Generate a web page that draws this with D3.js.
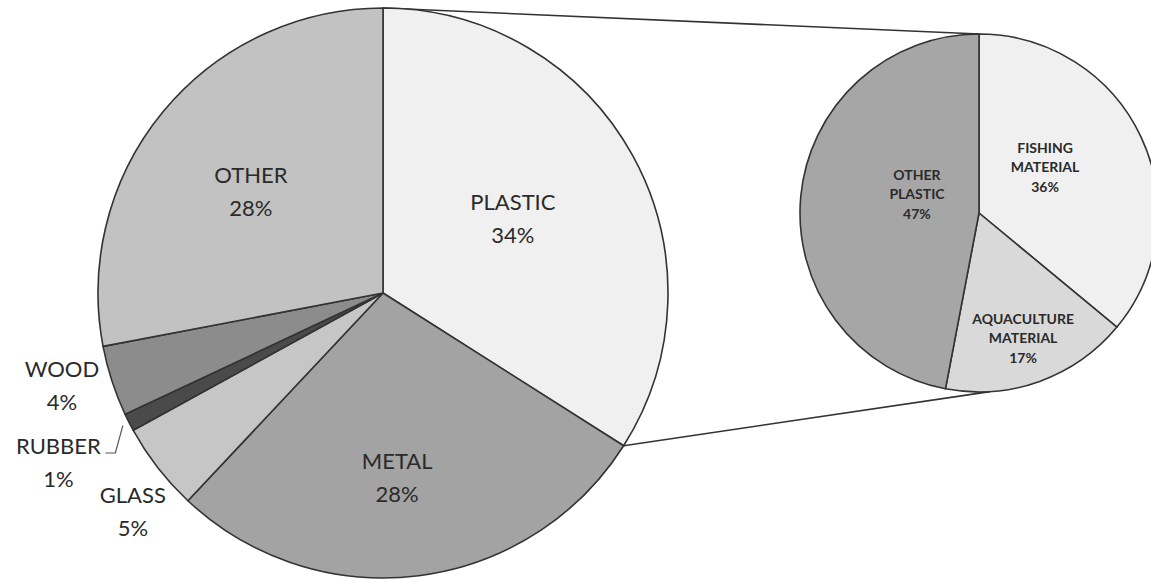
<!DOCTYPE html>
<html>
<head>
<meta charset="utf-8">
<script src="https://cdn.jsdelivr.net/npm/d3@7"></script>
<style>
  html, body { margin: 0; padding: 0; background: #fff; }
  svg { display: block; }
</style>
</head>
<body>
<svg id="chart" width="1151" height="580"></svg>
<script>
// ---- data ----
const mainCategories = ["PLASTIC", "METAL", "GLASS", "RUBBER", "WOOD", "OTHER"];
const mainValues = [34, 28, 5, 1, 4, 28];
const subCategories = ["FISHING\nMATERIAL", "AQUACULTURE\nMATERIAL", "OTHER\nPLASTIC"];
const subValues = [36, 17, 47];

// ---- styling ----
const mainColors = ["#f0f0f0", "#a3a3a3", "#c6c6c6", "#4a4a4a", "#8c8c8c", "#c2c2c2"];
const subColors = ["#f0f0f0", "#d9d9d9", "#a6a6a6"];
// label placement: [radius, angle shift in degrees] relative to slice middle
const mainLabelPlace = [[150, -1.2], [184.5, 2.8], [332, -3.3], [366, -0.5], [334, 2.0], [167, -1.9]];
const subLabelPlace = [[80, -9.1], [133.5, 0.5], [64.6, 10.8]];

const svg = d3.select("#chart");
const stroke = "#333";

const mainC = { x: 383, y: 293, r: 285 };
const subC = { x: 979, y: 213, r: 179 };

const pie = d3.pie().sort(null).value(d => d.v);
const mainArcs = pie(mainValues.map((v, i) => ({ v, name: mainCategories[i] })));
const subArcs = pie(subValues.map((v, i) => ({ v, name: subCategories[i] })));

function polar(c, r, a) { return [c.x + r * Math.sin(a), c.y - r * Math.cos(a)]; }

// connector lines
const plastic = mainArcs[0];
const top1 = polar(mainC, mainC.r, plastic.startAngle);
const top2 = polar(subC, subC.r, 0);
const bot1 = polar(mainC, mainC.r, plastic.endAngle);
const bot2 = polar(subC, subC.r, Math.PI * 176.5 / 180);
svg.append("line").attr("x1", top1[0]).attr("y1", top1[1]).attr("x2", top2[0]).attr("y2", top2[1])
  .attr("stroke", stroke).attr("stroke-width", 1.6);
svg.append("line").attr("x1", bot1[0]).attr("y1", bot1[1]).attr("x2", bot2[0]).attr("y2", bot2[1])
  .attr("stroke", stroke).attr("stroke-width", 1.6);

// main pie
const mainArc = d3.arc().innerRadius(0).outerRadius(mainC.r);
const gMain = svg.append("g").attr("transform", `translate(${mainC.x},${mainC.y})`);
gMain.selectAll("path").data(mainArcs).join("path")
  .attr("d", mainArc)
  .attr("fill", (d, i) => mainColors[i])
  .attr("stroke", stroke).attr("stroke-width", 1.6).attr("stroke-linejoin", "round");

// sub pie
const subArc = d3.arc().innerRadius(0).outerRadius(subC.r);
const gSub = svg.append("g").attr("transform", `translate(${subC.x},${subC.y})`);
gSub.selectAll("path").data(subArcs).join("path")
  .attr("d", subArc)
  .attr("fill", (d, i) => subColors[i])
  .attr("stroke", stroke).attr("stroke-width", 1.6).attr("stroke-linejoin", "round");

function labelXY(d, place) {
  const mid = (d.startAngle + d.endAngle) / 2 + place[1] * Math.PI / 180;
  return [place[0] * Math.sin(mid), -place[0] * Math.cos(mid)];
}

// main labels
mainArcs.forEach((d, i) => {
  const [x, y] = labelXY(d, mainLabelPlace[i]);
  const t = gMain.append("text")
    .attr("text-anchor", "middle")
    .attr("font-family", "Lato, 'Noto Sans', sans-serif")
    .attr("font-size", 22)
    .attr("fill", "#2a2a2a");
  t.append("tspan").attr("x", x).attr("y", y - 8).text(d.data.name);
  t.append("tspan").attr("x", x).attr("y", y + 25).text(d.data.v + "%");
});

// rubber leader line
{
  const rub = mainArcs[3];
  const p = polar({ x: 0, y: 0 }, mainC.r + 7, (rub.startAngle + rub.endAngle) / 2);
  const [lx, ly] = labelXY(rub, mainLabelPlace[3]);
  gMain.append("polyline")
    .attr("points", [[lx + 47, ly - 9], [lx + 57, ly - 9], p].map(q => q.join(",")).join(" "))
    .attr("fill", "none").attr("stroke", "#555").attr("stroke-width", 1.2);
}

// sub labels
subArcs.forEach((d, i) => {
  const [x, y] = labelXY(d, subLabelPlace[i]);
  const lines = d.data.name.split("\n").concat([d.data.v + "%"]);
  const t = gSub.append("text")
    .attr("text-anchor", "middle")
    .attr("font-family", "Lato, 'Noto Sans', sans-serif")
    .attr("font-weight", "bold")
    .attr("font-size", 14)
    .attr("fill", "#2a2a2a");
  lines.forEach((s, k) => {
    t.append("tspan").attr("x", x).attr("y", y - 15 + k * 19.5).text(s);
  });
});
</script>
</body>
</html>
